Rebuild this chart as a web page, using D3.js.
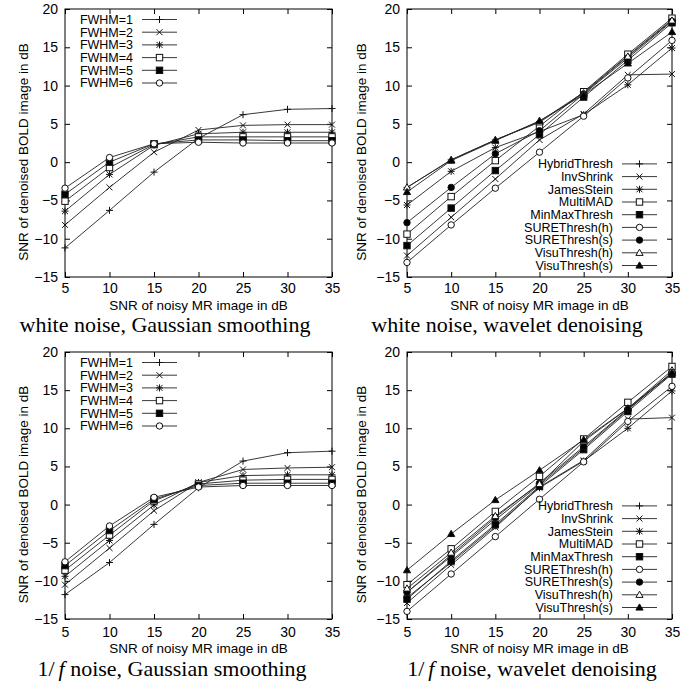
<!DOCTYPE html>
<html>
<head>
<meta charset="utf-8">
<script src="https://cdn.jsdelivr.net/npm/d3@7"></script>
<style>
  body { margin: 0; background: #fff; }
  svg { display: block; }
  text { font-family: "Liberation Sans", Arial, Helvetica, sans-serif; fill: #000; }
  .caption { font-family: "Liberation Serif", "Times New Roman", serif; font-size: 22px; }
</style>
</head>
<body>
<div id="chart"></div>
<script>
// input SNR (x axis)
var snrIn = [5, 10, 15, 20, 25, 30, 35];
var xTicks = [5, 10, 15, 20, 25, 30, 35];
var yTicks = [-15, -10, -5, 0, 5, 10, 15, 20];

var fwhmNames = ["FWHM=1", "FWHM=2", "FWHM=3", "FWHM=4", "FWHM=5", "FWHM=6"];
var fwhmMarks = ["plus", "cross", "star", "square", "squareFill", "circle"];

var methodNames = ["HybridThresh", "InvShrink", "JamesStein", "MultiMAD", "MinMaxThresh",
  "SUREThresh(h)", "SUREThresh(s)", "VisuThresh(h)", "VisuThresh(s)"];
var methodMarks = ["plus", "cross", "star", "square", "squareFill",
  "circle", "circleFill", "tri", "triFill"];

// white noise, gaussian smoothing
var whiteGauss = [
  [-11.2, -6.3, -1.3, 3.1, 6.2, 6.9, 7.0],
  [-8.2, -3.3, 1.3, 4.2, 4.8, 4.9, 4.9],
  [-6.4, -1.6, 2.2, 3.7, 3.9, 3.9, 3.9],
  [-5.1, -0.7, 2.3, 3.3, 3.3, 3.3, 3.3],
  [-4.2, 0.0, 2.4, 2.9, 2.9, 2.8, 2.8],
  [-3.4, 0.6, 2.4, 2.6, 2.5, 2.5, 2.5]
];

// white noise, wavelet denoising
var whiteWavelet = [
  [-3.3, 0.3, 2.9, 5.3, 9.1, 13.9, 18.6],
  [-12.2, -7.2, -2.2, 2.9, 6.3, 11.4, 11.5],
  [-5.6, -1.2, 1.9, 4.0, 6.2, 10.1, 14.9],
  [-9.4, -4.5, 0.2, 4.7, 9.2, 14.1, 18.8],
  [-10.9, -6.0, -1.1, 3.6, 8.5, 13.3, 18.2],
  [-13.1, -8.2, -3.4, 1.3, 6.0, 11.0, 15.9],
  [-7.9, -3.3, 1.1, 4.1, 8.9, 13.6, 18.4],
  [-3.3, 0.3, 2.9, 5.2, 9.0, 13.8, 18.5],
  [-3.9, 0.2, 2.8, 5.4, 8.8, 12.9, 17.0]
];

// 1/f noise, gaussian smoothing
var pinkGauss = [
  [-11.8, -7.6, -2.6, 2.2, 5.7, 6.8, 7.0],
  [-10.5, -5.7, -0.8, 2.9, 4.6, 4.8, 4.9],
  [-9.4, -4.7, -0.05, 2.9, 3.8, 3.9, 3.9],
  [-8.6, -4.0, 0.5, 2.7, 3.2, 3.3, 3.3],
  [-8.0, -3.4, 0.7, 2.5, 2.8, 2.8, 2.8],
  [-7.5, -2.8, 0.95, 2.3, 2.5, 2.5, 2.5]
];

// 1/f noise, wavelet denoising
var pinkWavelet = [
  [-11.5, -6.8, -2.0, 2.6, 7.4, 12.4, 17.3],
  [-12.9, -7.9, -3.0, 2.3, 5.8, 11.2, 11.4],
  [-12.2, -7.6, -2.8, 2.2, 5.7, 10.0, 14.9],
  [-10.5, -5.8, -0.9, 3.7, 8.6, 13.4, 18.1],
  [-12.4, -7.4, -2.6, 2.4, 7.2, 12.2, 17.1],
  [-14.0, -9.1, -4.2, 0.7, 5.6, 10.9, 15.5],
  [-11.5, -6.6, -1.7, 2.8, 7.6, 12.5, 17.2],
  [-11.0, -6.3, -1.5, 2.7, 8.3, 12.6, 17.6],
  [-8.6, -3.85, 0.6, 4.5, 8.5, 12.6, 17.3]
];

var width = 699, height = 686;

var svg = d3.select("#chart").append("svg")
    .attr("width", width)
    .attr("height", height);

var panels = [
  { data: whiteGauss, names: fwhmNames, marks: fwhmMarks,
    box: [65, 332, 9, 277], legend: "topleft", tickGap: 6, titleGap: 32.5, yTitleGap: 37,
    caption: ["white noise, Gaussian smoothing"], capX: 165, capY: 332 },
  { data: whiteWavelet, names: methodNames, marks: methodMarks,
    box: [407, 672, 9, 277], legend: "bottomright", tickGap: 6, titleGap: 32.5, yTitleGap: 41,
    caption: ["white noise, wavelet denoising"], capX: 507, capY: 332 },
  { data: pinkGauss, names: fwhmNames, marks: fwhmMarks,
    box: [65, 332, 352, 619], legend: "topleft", tickGap: 8, titleGap: 34, yTitleGap: 37,
    caption: ["1/", "f", " noise, Gaussian smoothing"], capX: 172, capY: 675.5 },
  { data: pinkWavelet, names: methodNames, marks: methodMarks,
    box: [407, 672, 352, 619], legend: "bottomright", tickGap: 8, titleGap: 34, yTitleGap: 41,
    caption: ["1/", "f", " noise, wavelet denoising"], capX: 532, capY: 675.5 }
];

// gnuplot style point symbols
var drawMark = function(g, type, x, y) {
  var s = 3.5;
  var stroke = "#111";
  if (type == "plus" || type == "star") {
    g.append("path").attr("d", "M" + (x - s) + "," + y + "H" + (x + s) + "M" + x + "," + (y - s) + "V" + (y + s))
      .attr("stroke", stroke).attr("fill", "none");
  }
  if (type == "cross" || type == "star") {
    var c = s * 0.85;
    g.append("path").attr("d", "M" + (x - c) + "," + (y - c) + "L" + (x + c) + "," + (y + c) +
        "M" + (x - c) + "," + (y + c) + "L" + (x + c) + "," + (y - c))
      .attr("stroke", stroke).attr("fill", "none");
  }
  if (type == "square" || type == "squareFill") {
    g.append("rect").attr("x", x - 3.2).attr("y", y - 3.2).attr("width", 6.4).attr("height", 6.4)
      .attr("stroke", stroke).attr("fill", type == "square" ? "#fff" : "#000");
  }
  if (type == "circle" || type == "circleFill") {
    g.append("circle").attr("cx", x).attr("cy", y).attr("r", 3.2)
      .attr("stroke", stroke).attr("fill", type == "circle" ? "#fff" : "#000");
  }
  if (type == "tri" || type == "triFill") {
    g.append("path").attr("d", "M" + x + "," + (y - 3.6) + "L" + (x + 3.6) + "," + (y + 2.6) + "L" + (x - 3.6) + "," + (y + 2.6) + "Z")
      .attr("stroke", stroke).attr("fill", type == "tri" ? "#fff" : "#000");
  }
};

panels.forEach(function(p) {
  var left = p.box[0], right = p.box[1], top = p.box[2], bottom = p.box[3];
  var g = svg.append("g");

  var x = d3.scaleLinear().domain([5, 35]).range([left, right]);
  var y = d3.scaleLinear().domain([-15, 20]).range([bottom, top]);

  // axes with inward ticks, mirrored like gnuplot
  g.append("g").attr("transform", "translate(0," + bottom + ")")
    .call(d3.axisBottom(x).tickValues(xTicks).tickSizeInner(-5).tickSizeOuter(0).tickPadding(p.tickGap))
    .call(function(a) { a.select(".domain").remove(); });
  g.append("g").attr("transform", "translate(0," + top + ")")
    .call(d3.axisTop(x).tickValues(xTicks).tickSizeInner(-5).tickSizeOuter(0).tickFormat(""))
    .call(function(a) { a.select(".domain").remove(); });
  g.append("g").attr("transform", "translate(" + left + ",0)")
    .call(d3.axisLeft(y).tickValues(yTicks).tickSizeInner(-5).tickSizeOuter(0).tickPadding(7))
    .call(function(a) { a.select(".domain").remove(); });
  g.append("g").attr("transform", "translate(" + right + ",0)")
    .call(d3.axisRight(y).tickValues(yTicks).tickSizeInner(-5).tickSizeOuter(0).tickFormat(""))
    .call(function(a) { a.select(".domain").remove(); });

  g.selectAll("g.tick text").style("font-size", "14px").attr("font-family", null);
  g.selectAll("g.tick line").attr("stroke", "#000");

  g.append("rect")
    .attr("x", left).attr("y", top)
    .attr("width", right - left).attr("height", bottom - top)
    .attr("fill", "none").attr("stroke", "#000");

  // axis titles
  g.append("text")
    .attr("x", (left + right) / 2).attr("y", bottom + p.titleGap)
    .attr("text-anchor", "middle").attr("font-size", 13.5)
    .text("SNR of noisy MR image in dB");
  g.append("text")
    .attr("transform", "translate(" + (left - p.yTitleGap) + "," + ((top + bottom) / 2 + 9) + ") rotate(-90)")
    .attr("text-anchor", "middle").attr("font-size", 13.5)
    .text("SNR of denoised BOLD image in dB");

  // series
  var line = d3.line()
    .x(function(d, i) { return x(snrIn[i]); })
    .y(function(d) { return y(d); });

  p.data.forEach(function(series, k) {
    g.append("path").datum(series)
      .attr("d", line)
      .attr("fill", "none")
      .attr("stroke", "#222")
      .attr("stroke-width", 0.9);
    series.forEach(function(v, i) {
      drawMark(g, p.marks[k], x(snrIn[i]), y(v));
    });
  });

  // legend
  var lx0, lx1, ly0, step = 12.7;
  if (p.legend == "topleft") {
    lx0 = left + 77; lx1 = left + 112; ly0 = top + 10.5;
  } else {
    lx0 = right - 50; lx1 = right - 15; ly0 = bottom - 11.5 - step * (p.names.length - 1);
  }
  p.names.forEach(function(name, k) {
    var ly = ly0 + k * step;
    g.append("text")
      .attr("x", lx0 - 9).attr("y", ly).attr("dy", "0.35em")
      .attr("text-anchor", "end").attr("font-size", 12.5)
      .text(name);
    g.append("line")
      .attr("x1", lx0).attr("x2", lx1).attr("y1", ly).attr("y2", ly)
      .attr("stroke", "#222").attr("stroke-width", 0.9);
    drawMark(g, p.marks[k], (lx0 + lx1) / 2, ly);
  });

  // caption
  var cap = g.append("text")
    .attr("class", "caption")
    .attr("x", p.capX).attr("y", p.capY)
    .attr("text-anchor", "middle");
  p.caption.forEach(function(part, j) {
    var t = cap.append("tspan").text(part);
    if (p.caption.length > 1 && j == 1) t.attr("font-style", "italic").attr("dx", 4);
  });
});
</script>
</body>
</html>
